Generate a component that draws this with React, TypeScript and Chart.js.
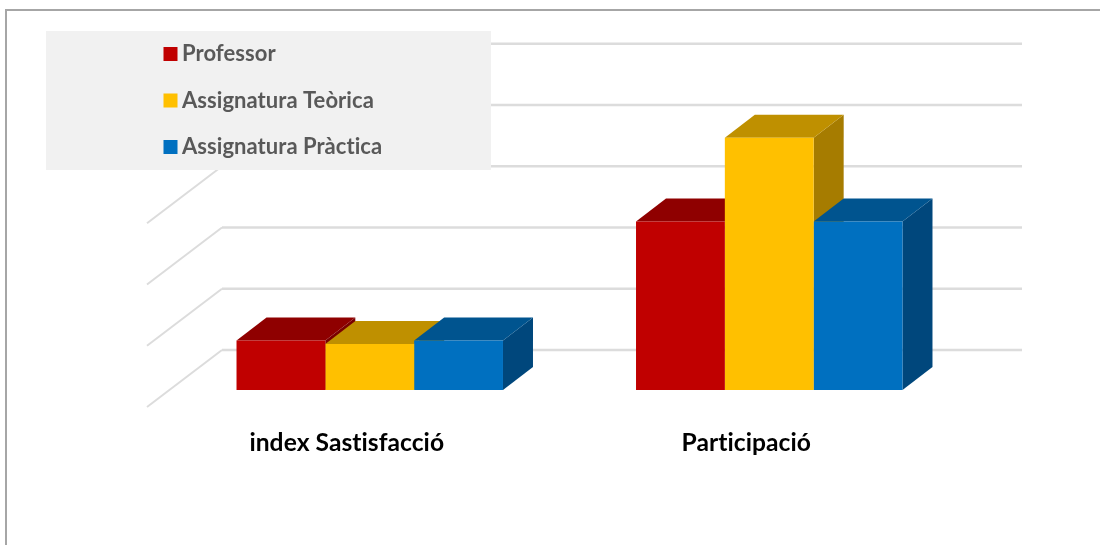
import React, { useEffect, useRef } from "react";
import { Chart, registerables } from "chart.js";

Chart.register(...registerables);

const categories = ["index Sastisfacció", "Participació"];
const professor = [0.81, 2.75];
const teorica = [0.75, 4.12];
const practica = [0.81, 2.75];
const axisMax = 5;
const axisStep = 1;

const seriesColors = ["#c00000", "#ffc000", "#0070c0"];
const topColors = ["#8f0000", "#bf9000", "#00548f"];
const sideColors = ["#7a0000", "#a67c00", "#00477c"];

const BAR_DX = 30;
const BAR_DY = 23;
const WALL_DX = 75;
const WALL_DY = 57;
const WALL_RAISE = 40;
const WALL_LEFT = 222;
const WALL_RIGHT = 1022;

const FONT = "Lato, Carlito, sans-serif";

const wallsAndFrame = {
  id: "wallsAndFrame",
  afterLayout(chart: any) {
    const legend = chart.legend;
    if (!legend) return;
    legend.left = 145.5;
    legend.right = 491;
    legend.width = legend.right - legend.left;
    legend.top = 18.5;
    legend.bottom = 300;
    legend.height = legend.bottom - legend.top;
  },
  beforeDraw(chart: any) {
    const { ctx, scales } = chart;
    const y = scales.y;
    ctx.letterSpacing = "0.05px";
    ctx.save();
    // outer frame
    ctx.strokeStyle = "#a6a6a6";
    ctx.lineWidth = 2;
    ctx.beginPath();
    ctx.moveTo(6, 545);
    ctx.lineTo(6, 10);
    ctx.lineTo(1100, 10);
    ctx.stroke();
    // back wall and side wall grid
    ctx.strokeStyle = "#dcdcdc";
    y.ticks.forEach((t: any) => {
      const py = y.getPixelForValue(t.value) - WALL_RAISE;
      ctx.lineWidth = 2.5;
      ctx.beginPath();
      ctx.moveTo(WALL_RIGHT, py);
      ctx.lineTo(WALL_LEFT, py);
      ctx.stroke();
      ctx.lineWidth = 2;
      ctx.beginPath();
      ctx.moveTo(WALL_LEFT, py);
      ctx.lineTo(WALL_LEFT - WALL_DX, py + WALL_DY);
      ctx.stroke();
    });
    // legend panel
    ctx.fillStyle = "#f1f1f1";
    ctx.fillRect(46, 31, 445, 139);
    ctx.restore();
  },
  beforeDatasetsDraw(chart: any) {
    const { ctx } = chart;
    ctx.save();
    chart.data.datasets.forEach((_: any, i: number) => {
      chart.getDatasetMeta(i).data.forEach((bar: any) => {
        const right = bar.x + bar.width / 2;
        const left = bar.x - bar.width / 2;
        const top = bar.y;
        const base = bar.base;
        ctx.fillStyle = sideColors[i];
        ctx.beginPath();
        ctx.moveTo(right, top);
        ctx.lineTo(right + BAR_DX, top - BAR_DY);
        ctx.lineTo(right + BAR_DX, base - BAR_DY);
        ctx.lineTo(right, base);
        ctx.closePath();
        ctx.fill();
        ctx.fillStyle = topColors[i];
        ctx.beginPath();
        ctx.moveTo(left, top);
        ctx.lineTo(left + BAR_DX, top - BAR_DY);
        ctx.lineTo(right + BAR_DX, top - BAR_DY);
        ctx.lineTo(right, top);
        ctx.closePath();
        ctx.fill();
      });
    });
    ctx.restore();
  },
};

export default function App() {
  const ref = useRef<HTMLCanvasElement | null>(null);

  useEffect(() => {
    if (!ref.current) return;
    const chart = new Chart(ref.current, {
      type: "bar",
      data: {
        labels: categories,
        datasets: [
          { label: "Professor", data: professor, backgroundColor: seriesColors[0] },
          { label: "Assignatura Teòrica", data: teorica, backgroundColor: seriesColors[1] },
          { label: "Assignatura Pràctica", data: practica, backgroundColor: seriesColors[2] },
        ],
      },
      options: {
        responsive: false,
        animation: false,
        layout: { padding: { left: 170, right: 131, top: 83.75, bottom: 0 } },
        datasets: { bar: { barPercentage: 1, categoryPercentage: 0.667 } },
        scales: {
          x: {
            grid: { display: false, drawTicks: false },
            border: { display: false },
            afterFit(scale: any) {
              scale.height = 155;
            },
            ticks: {
              autoSkip: false,
              maxRotation: 0,
              padding: 41,
              labelOffset: -23,
              color: "#000000",
              font: { family: FONT, size: 24.6, weight: "bold", lineHeight: 1 },
            },
          },
          y: {
            display: false,
            min: 0,
            max: axisMax,
            ticks: { stepSize: axisStep },
          },
        },
        plugins: {
          tooltip: { enabled: false },
          legend: {
            display: true,
            position: "chartArea",
            align: "start",
            labels: {
              usePointStyle: true,
              pointStyle: "rect",
              boxWidth: 1,
              boxHeight: 14,
              padding: 24.5,
              color: "#595959",
              font: { family: FONT, size: 22, weight: "bold", lineHeight: 1 },
            },
          },
        },
      } as any,
      plugins: [wallsAndFrame as any],
    });
    return () => chart.destroy();
  }, []);

  return (
    <div style={{ position: "fixed", left: 0, top: 0, width: 1100, height: 545, background: "#ffffff" }}>
      <canvas ref={ref} width={1100} height={545} style={{ display: "block" }} />
    </div>
  );
}
